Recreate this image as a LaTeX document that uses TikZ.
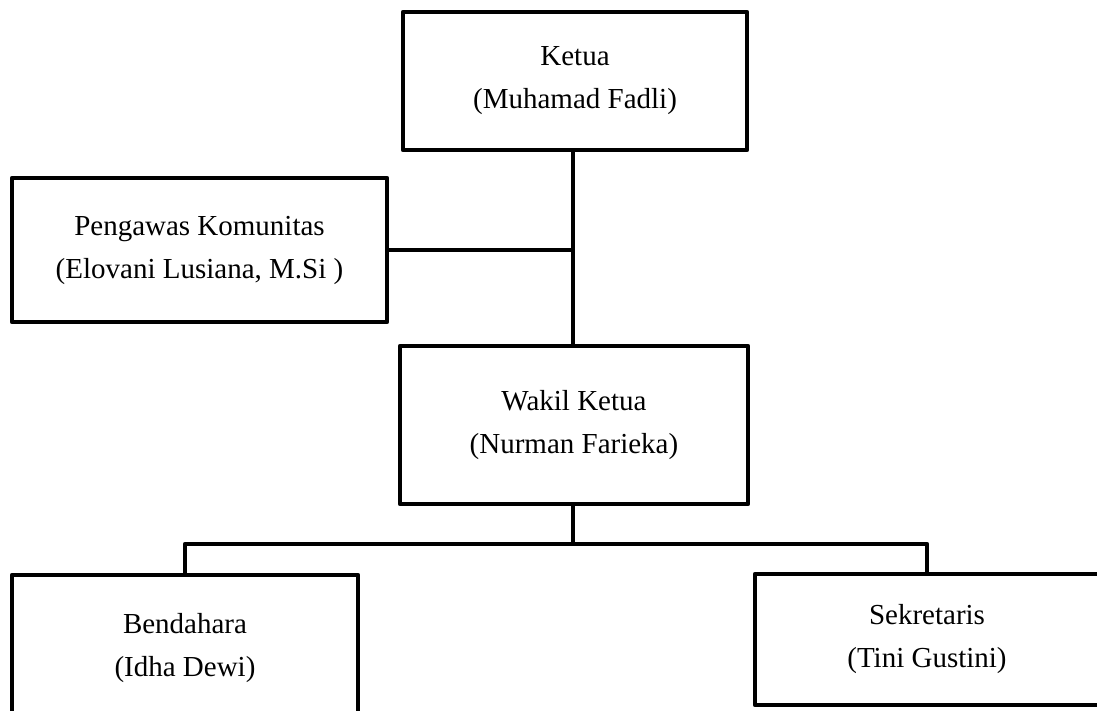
\documentclass[tikz,border=0pt]{standalone}
\usepackage{fontspec}
\setmainfont{Liberation Serif}
\begin{document}
\begin{tikzpicture}[x=1pt,y=-1pt,
  orgbox/.style={draw=black,line width=4.6pt,line join=round,rectangle,inner sep=0pt,
    align=center,font=\fontsize{29}{43}\selectfont,fill=white},
  link/.style={draw=black,line width=4.6pt,line join=round}]
\useasboundingbox (0,0) rectangle (1097,711);
\clip (0,0) rectangle (1097,711);
\fill[white] (0,0) rectangle (1097,711);
\coordinate (spine) at (573,250);
\coordinate (bar) at (573,544);
% connectors first
\node[orgbox,minimum width=344pt,minimum height=138pt] (ketua) at (575,81) {Ketua\\(Muhamad Fadli)};
\node[orgbox,minimum width=375pt,minimum height=144pt] (peng) at (199.5,250) {Pengawas Komunitas\\(Elovani Lusiana, M.Si )};
\node[orgbox,minimum width=348pt,minimum height=158pt] (wakil) at (574,425) {Wakil Ketua\\(Nurman Farieka)};
\node[orgbox,minimum width=346pt,minimum height=146pt] (bend) at (185,648) {Bendahara\\(Idha Dewi)};
\node[orgbox,minimum width=344pt,minimum height=131pt] (sek) at (927,639.5) {Sekretaris\\(Tini Gustini)};
\draw[link] (ketua.south -| spine) -- (wakil.north -| spine);
\draw[link] (peng.east) -- (spine);
\draw[link] (wakil.south -| bar) -- (bar);
\draw[link] (bend.north) |- (bar) -| (sek.north);
\end{tikzpicture}
\end{document}
